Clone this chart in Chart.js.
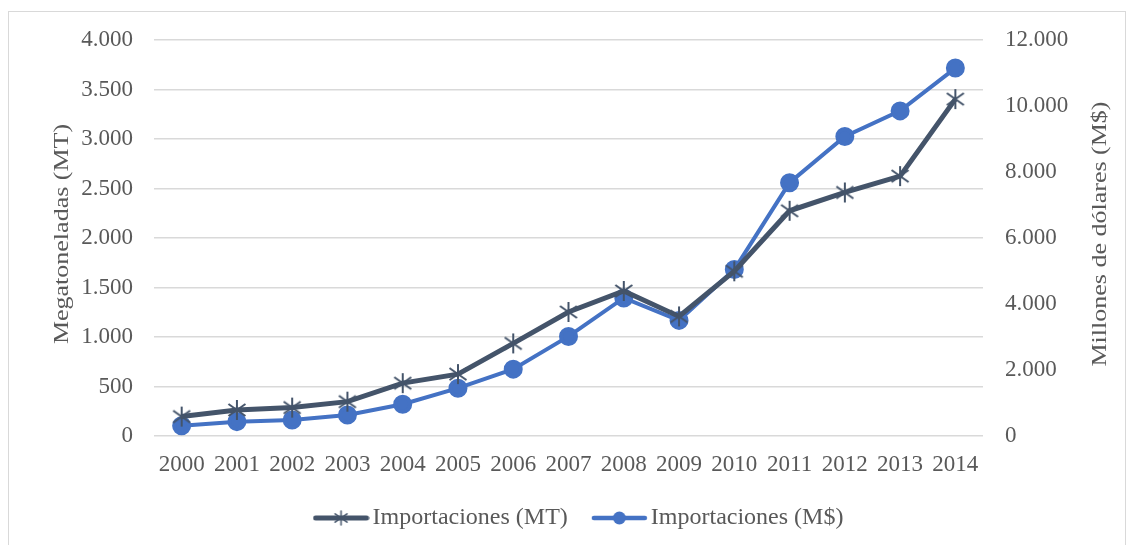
<!DOCTYPE html>
<html>
<head>
<meta charset="utf-8">
<script src="https://cdn.jsdelivr.net/npm/chart.js@4.4.1/dist/chart.umd.min.js"></script>
<style>
  html, body { margin: 0; padding: 0; background: #fff; }
  #wrap { width: 1134px; height: 545px; }
</style>
</head>
<body>
<div id="wrap"><canvas id="myChart" width="1134" height="545"></canvas></div>
<script>
const years = ['2000', '2001', '2002', '2003', '2004', '2005', '2006', '2007', '2008', '2009', '2010', '2011', '2012', '2013', '2014']
const importMT = [196, 263, 287, 347, 534, 625, 935, 1253, 1465, 1208, 1664, 2275, 2460, 2625, 3403]
const importUSD = [313, 435, 486, 638, 963, 1449, 2026, 3017, 4183, 3503, 5043, 7677, 9074, 9852, 11150]
const leftTitle = 'Megatoneladas (MT)'
const rightTitle = 'Millones de dólares (M$)'

const dark = '#44546A'
const blue = '#4472C4'
const textColor = '#595959'
const serif = 'Liberation Serif'

function fmt(v) {
  return String(v).replace(/\B(?=(\d{3})+(?!\d))/g, '.')
}

function drawStar(g, cx, cy, r, lw) {
  g.save()
  g.strokeStyle = dark
  g.lineWidth = lw
  g.beginPath()
  g.moveTo(cx, cy - r); g.lineTo(cx, cy + r)
  g.moveTo(cx - r * 0.85, cy - r * 0.6); g.lineTo(cx + r * 0.85, cy + r * 0.6)
  g.moveTo(cx + r * 0.85, cy - r * 0.6); g.lineTo(cx - r * 0.85, cy + r * 0.6)
  g.stroke()
  g.restore()
}

function starImg(size, lw) {
  const c = document.createElement('canvas')
  c.width = size; c.height = size
  drawStar(c.getContext('2d'), size / 2, size / 2, size / 2 - 1, lw)
  return c
}

// legend sample: a short line with the marker in the middle
function legendImg(color, lw, marker) {
  const c = document.createElement('canvas')
  c.width = 57; c.height = 20
  const g = c.getContext('2d')
  g.strokeStyle = color
  g.lineWidth = lw
  g.lineCap = 'round'
  g.beginPath(); g.moveTo(3, 10); g.lineTo(54, 10); g.stroke()
  if (marker === 'star') {
    drawStar(g, 28.5, 10, 7, 1.5)
  } else {
    g.fillStyle = color
    g.beginPath(); g.arc(28.5, 10, 6.5, 0, Math.PI * 2); g.fill()
  }
  return c
}

const frame = {
  id: 'frame',
  beforeDraw(chart) {
    const g = chart.ctx
    g.save()
    g.strokeStyle = '#d9d9d9'
    g.lineWidth = 1
    g.strokeRect(8.5, 11.5, 1117, 540)
    g.restore()
  },
  afterDraw(chart) {
    // both axis titles read bottom-to-top, as in the original
    const g = chart.ctx
    const cy = 234
    const titles = [[leftTitle, 63], [rightTitle, 1101]]
    g.save()
    g.fillStyle = textColor
    g.font = '26px "' + serif + '"'
    g.textAlign = 'center'
    g.textBaseline = 'middle'
    titles.forEach(([t, cx]) => {
      g.save()
      g.translate(cx, cy)
      g.rotate(-Math.PI / 2)
      g.scale(1, 0.8)
      g.fillText(t, 0, 0)
      g.restore()
    })
    g.restore()
  }
}

const ctx = document.getElementById('myChart')

const myChart = new Chart(ctx, {
  type: 'line',
  data: {
    labels: years,
    datasets: [{
      label: 'Importaciones (MT)',
      data: importMT,
      yAxisID: 'y',
      borderColor: dark,
      backgroundColor: dark,
      borderWidth: 5,
      pointStyle: starImg(22, 2),
      tension: 0
    }, {
      label: 'Importaciones (M$)',
      data: importUSD,
      yAxisID: 'y2',
      borderColor: blue,
      backgroundColor: blue,
      borderWidth: 4,
      pointStyle: 'circle',
      pointRadius: 7.5,
      pointHoverRadius: 7.5,
      tension: 0
    }]
  },
  options: {
    responsive: false,
    animation: false,
    layout: { padding: { left: 31, right: 0, top: 40, bottom: 5 } },
    scales: {
      x: {
        offset: true,
        grid: { display: false, drawTicks: false },
        border: { display: false },
        ticks: { color: textColor, font: { family: serif, size: 23 }, padding: 15, maxRotation: 0, autoSkip: false },
        afterFit: s => { s.height = 38 }
      },
      y: {
        position: 'left',
        min: 0, max: 4000,
        grid: { color: '#d9d9d9', lineWidth: 1.5, drawTicks: false },
        border: { display: false },
        ticks: { stepSize: 500, color: textColor, padding: 21, font: { family: serif, size: 23 }, callback: v => fmt(v) },
        afterFit: s => { s.width = 123 }
      },
      y2: {
        position: 'right',
        min: 0, max: 12000,
        grid: { display: false, drawTicks: false },
        border: { display: false },
        ticks: { stepSize: 2000, color: textColor, padding: 22, font: { family: serif, size: 23 }, callback: v => fmt(v) },
        afterFit: s => { s.width = 151 }
      }
    },
    plugins: {
      legend: {
        position: 'bottom',
        maxHeight: 66,
        labels: {
          color: textColor,
          font: { family: serif, size: 24 },
          usePointStyle: true,
          pointStyleWidth: 39,
          padding: 32,
          generateLabels: chart => chart.data.datasets.map((ds, i) => ({
            text: ds.label,
            fontColor: textColor,
            datasetIndex: i,
            lineWidth: 0,
            pointStyle: i === 0 ? legendImg(dark, 5, 'star') : legendImg(blue, 4.5, 'circle')
          }))
        }
      },
      tooltip: { enabled: false }
    }
  },
  plugins: [frame]
})
</script>
</body>
</html>
